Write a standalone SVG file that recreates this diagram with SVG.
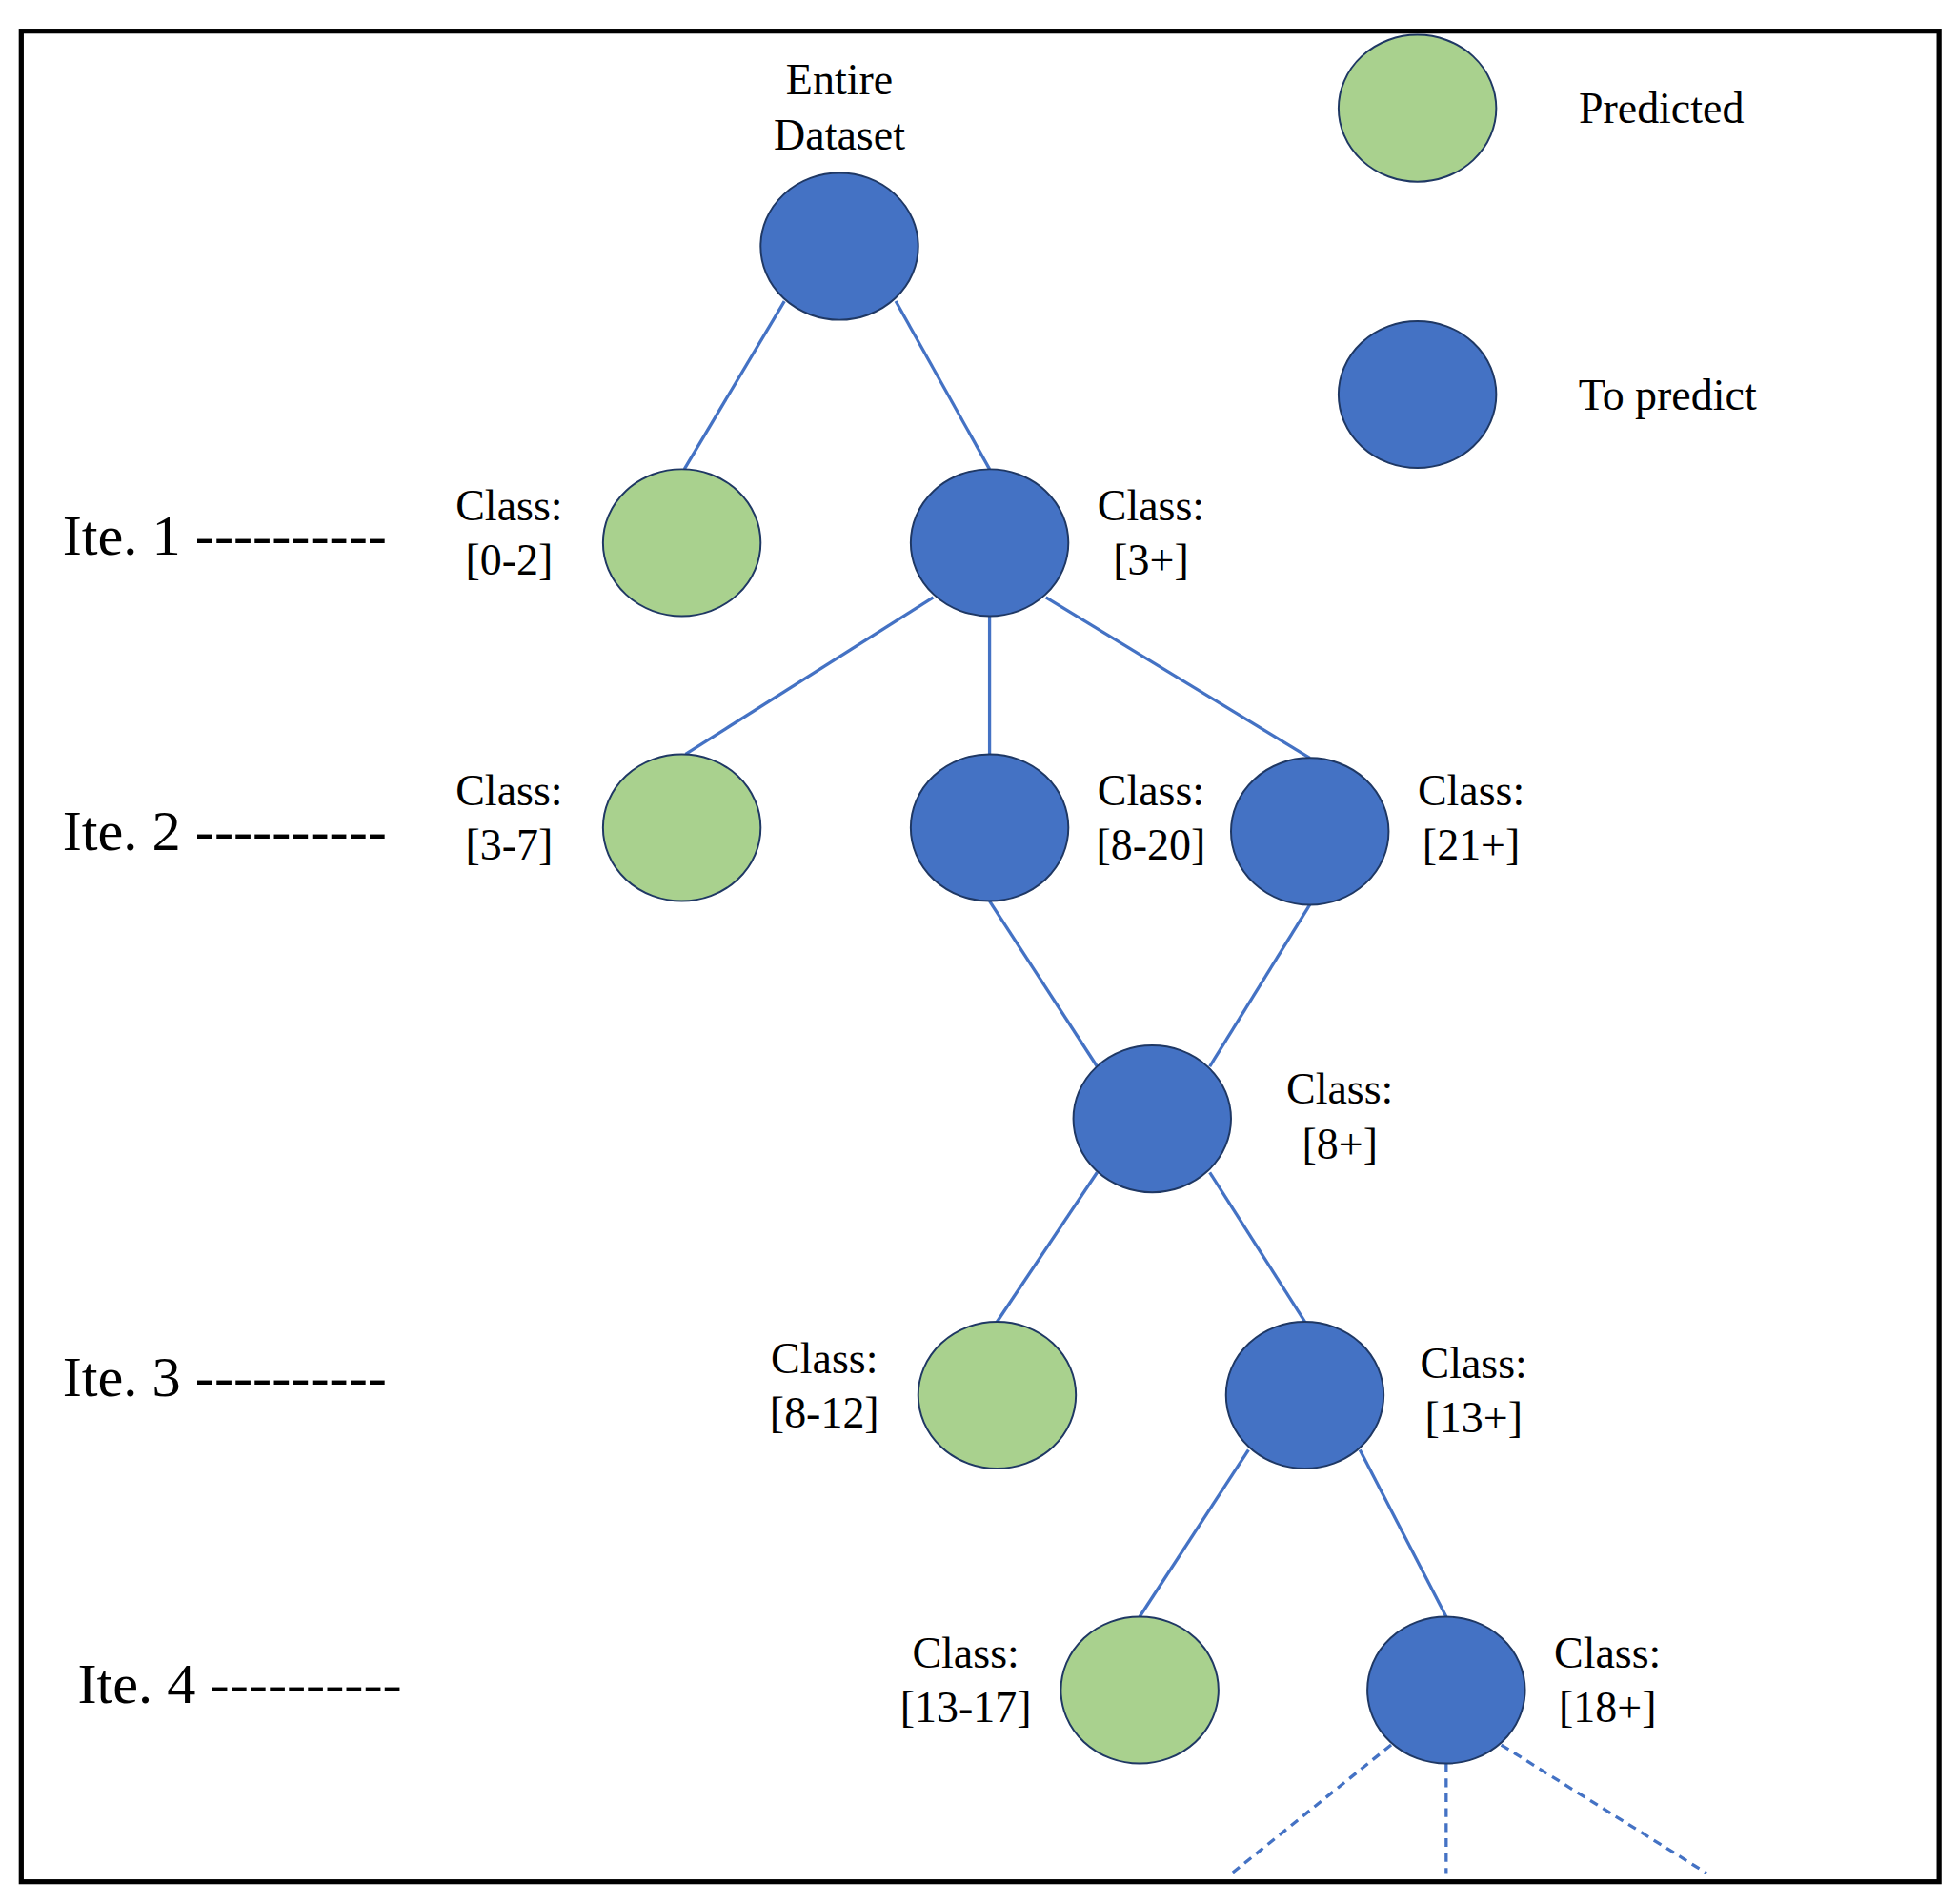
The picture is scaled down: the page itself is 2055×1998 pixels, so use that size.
<svg xmlns="http://www.w3.org/2000/svg" width="2055" height="1998" viewBox="0 0 2055 1998">
<style>
.b{fill:#4472C4;stroke:#1F3864;stroke-width:1.5}
.g{fill:#A9D18E;stroke:#1F3864;stroke-width:1.5}
.t{font-family:"Liberation Serif","DejaVu Serif",serif;font-size:35px;fill:#000;text-anchor:middle}
.i{font-family:"Liberation Serif","DejaVu Serif",serif;font-size:46px;fill:#000}
#edges line{stroke:#4472C4;stroke-width:2.5}
#edges .d{stroke-dasharray:7 5}
</style>
<rect width="2055" height="1998" fill="#fff"/>
<g transform="scale(1.313,1.306)">
<rect x="17" y="25" width="1533" height="1487" fill="none" stroke="#000" stroke-width="4"/>
<g id="edges">
<line x1="627" y1="242" x2="547" y2="377"/>
<line x1="716" y1="242" x2="791" y2="377"/>
<line x1="746" y1="480" x2="548" y2="606"/>
<line x1="791" y1="495" x2="791" y2="606"/>
<line x1="836" y1="480" x2="1047" y2="609"/>
<line x1="791" y1="724" x2="877" y2="857"/>
<line x1="1047" y1="727" x2="967" y2="857"/>
<line x1="877" y1="942" x2="797" y2="1062"/>
<line x1="967" y1="942" x2="1043" y2="1062"/>
<line x1="998" y1="1165" x2="911" y2="1299"/>
<line x1="1087" y1="1165" x2="1156" y2="1299"/>
<line class="d" x1="1112" y1="1402" x2="985" y2="1505"/>
<line class="d" x1="1156" y1="1417" x2="1156" y2="1505"/>
<line class="d" x1="1200" y1="1402" x2="1364" y2="1505"/>
</g>
<g id="legend">
<ellipse class="g" cx="1133" cy="87" rx="63" ry="59"/><text class="t" x="1328" y="99">Predicted</text>
<ellipse class="b" cx="1133" cy="317" rx="63" ry="59"/><text class="t" x="1333" y="329">To predict</text>
</g>
<g id="root"><ellipse class="b" cx="671" cy="198" rx="63" ry="59"/><text class="t" x="671" y="76">Entire</text><text class="t" x="671" y="120">Dataset</text></g>
<g id="n02"><ellipse class="g" cx="545" cy="436" rx="63" ry="59"/><text class="t" x="407" y="418">Class:</text><text class="t" x="407" y="462">[0-2]</text></g>
<g id="n3"><ellipse class="b" cx="791" cy="436" rx="63" ry="59"/><text class="t" x="920" y="418">Class:</text><text class="t" x="920" y="462">[3+]</text></g>
<g id="n37"><ellipse class="g" cx="545" cy="665" rx="63" ry="59"/><text class="t" x="407" y="647">Class:</text><text class="t" x="407" y="691">[3-7]</text></g>
<g id="n820"><ellipse class="b" cx="791" cy="665" rx="63" ry="59"/><text class="t" x="920" y="647">Class:</text><text class="t" x="920" y="691">[8-20]</text></g>
<g id="n21"><ellipse class="b" cx="1047" cy="668" rx="63" ry="59"/><text class="t" x="1176" y="647">Class:</text><text class="t" x="1176" y="691">[21+]</text></g>
<g id="n8"><ellipse class="b" cx="921" cy="899" rx="63" ry="59"/><text class="t" x="1071" y="887">Class:</text><text class="t" x="1071" y="931">[8+]</text></g>
<g id="n812"><ellipse class="g" cx="797" cy="1121" rx="63" ry="59"/><text class="t" x="659" y="1103">Class:</text><text class="t" x="659" y="1147">[8-12]</text></g>
<g id="n13"><ellipse class="b" cx="1043" cy="1121" rx="63" ry="59"/><text class="t" x="1178" y="1107">Class:</text><text class="t" x="1178" y="1151">[13+]</text></g>
<g id="n1317"><ellipse class="g" cx="911" cy="1358" rx="63" ry="59"/><text class="t" x="772" y="1340">Class:</text><text class="t" x="772" y="1384">[13-17]</text></g>
<g id="n18"><ellipse class="b" cx="1156" cy="1358" rx="63" ry="59"/><text class="t" x="1285" y="1340">Class:</text><text class="t" x="1285" y="1384">[18+]</text></g>
<g id="iters">
<text class="i" x="50" y="446">Ite. 1 ----------</text>
<text class="i" x="50" y="683">Ite. 2 ----------</text>
<text class="i" x="50" y="1122">Ite. 3 ----------</text>
<text class="i" x="62" y="1368">Ite. 4 ----------</text>
</g>
</g>
</svg>
